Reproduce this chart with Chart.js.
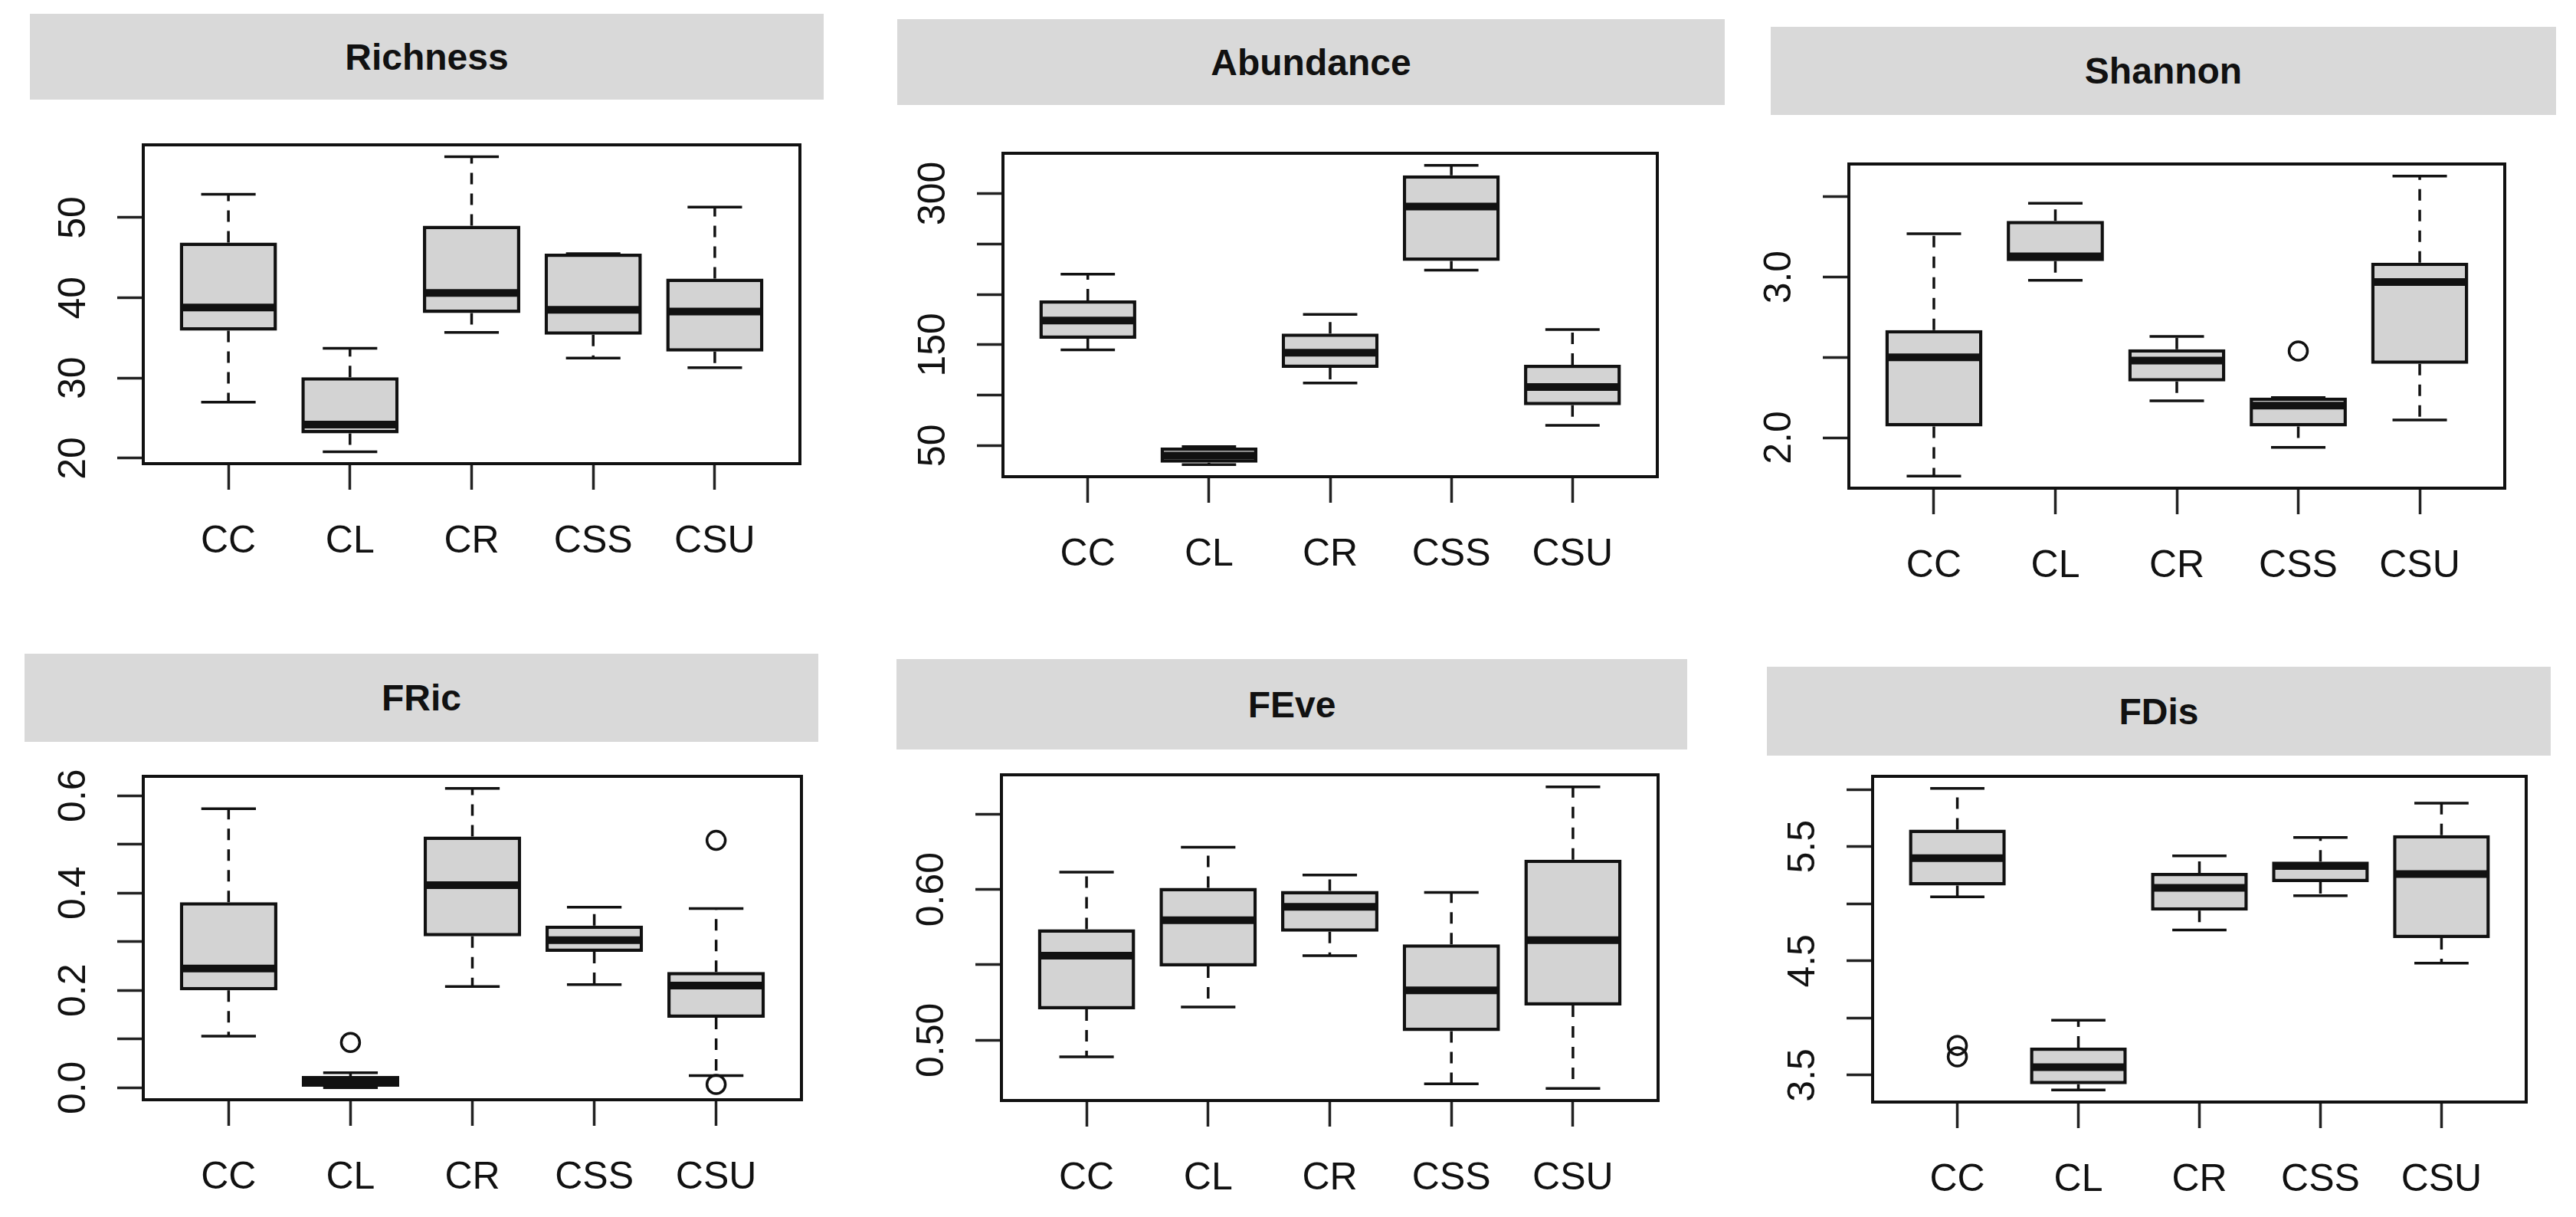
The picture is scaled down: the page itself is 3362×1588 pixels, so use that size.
<!DOCTYPE html>
<html>
<head>
<meta charset="utf-8">
<script src="https://cdn.jsdelivr.net/npm/chart.js@4.4.1/dist/chart.umd.min.js"></script>
<style>
  body { margin: 0; background: #fff; width: 3362px; height: 1588px; position: relative; overflow: hidden;
         font-family: "Liberation Sans", Arial, sans-serif; }
  .strip { position: absolute; background: #d9d9d9; display: flex; align-items: center; justify-content: center;
           font-weight: bold; font-size: 48px; color: #111; }
  .panel { position: absolute; }
</style>
</head>
<body>
<script>
const groups = ["CC", "CL", "CR", "CSS", "CSU"];

// per group: [lower whisker, Q1, median, Q3, upper whisker]
const richness = [[27.0, 35.9, 38.8, 46.9, 52.9], [20.8, 23.1, 24.2, 30.1, 33.7], [35.7, 38.1, 40.6, 49.0, 57.6],
                  [32.5, 35.4, 38.5, 45.5, 45.5], [31.3, 33.3, 38.3, 42.4, 51.3]];
const abundance = [[145, 156, 174, 194, 220], [31, 33, 40, 48, 49], [112, 127, 142, 161, 180],
                   [224, 233, 287, 318, 328], [70, 90, 108, 130, 165]];
const shannon = [[1.76, 2.07, 2.50, 2.67, 3.27], [2.98, 3.10, 3.13, 3.35, 3.46], [2.23, 2.35, 2.48, 2.55, 2.63],
                 [1.94, 2.07, 2.20, 2.25, 2.25], [2.11, 2.46, 2.97, 3.09, 3.63]];
const fric = [[0.106, 0.200, 0.245, 0.381, 0.573], [0.000, 0.002, 0.011, 0.024, 0.031], [0.208, 0.311, 0.416, 0.516, 0.615],
              [0.212, 0.279, 0.303, 0.333, 0.371], [0.025, 0.144, 0.210, 0.238, 0.368]];
const feve = [[0.489, 0.5205, 0.556, 0.5736, 0.6115], [0.522, 0.549, 0.5795, 0.601, 0.628], [0.556, 0.572, 0.5885, 0.599, 0.6095],
              [0.471, 0.506, 0.533, 0.5636, 0.598], [0.468, 0.523, 0.5664, 0.6197, 0.668]];
const fdis = [[5.06, 5.16, 5.40, 5.65, 6.01], [3.37, 3.42, 3.57, 3.74, 3.98], [4.77, 4.94, 5.14, 5.27, 5.42],
              [5.07, 5.19, 5.33, 5.37, 5.58], [4.48, 4.70, 5.26, 5.60, 5.88]];

// outliers: [group number, value]
const richnessOut = [];
const abundanceOut = [];
const shannonOut = [[4, 2.54]];
const fricOut = [[2, 0.093], [5, 0.508], [5, 0.007]];
const feveOut = [];
const fdisOut = [[1, 3.76], [1, 3.66]];

// y tick marks, and which of them carry a label
const richnessTicks = [20, 30, 40, 50];
const richnessLabels = ["20", "30", "40", "50"];
const abundanceTicks = [50, 100, 150, 200, 250, 300];
const abundanceLabels = ["50", "150", "300"];
const shannonTicks = [2.0, 2.5, 3.0, 3.5];
const shannonLabels = ["2.0", "3.0"];
const fricTicks = [0.0, 0.1, 0.2, 0.3, 0.4, 0.5, 0.6];
const fricLabels = ["0.0", "0.2", "0.4", "0.6"];
const feveTicks = [0.50, 0.55, 0.60, 0.65];
const feveLabels = ["0.50", "0.60"];
const fdisTicks = [3.5, 4.0, 4.5, 5.0, 5.5, 6.0];
const fdisLabels = ["3.5", "4.5", "5.5"];

const FONT = '"Liberation Sans", Arial, sans-serif';
const INK = "#111";

function addPanel(title, stats, outliers, ticks, labels, strip, plot) {
  const head = document.createElement("div");
  head.className = "strip";
  head.style.left = strip[0] + "px"; head.style.top = strip[1] + "px";
  head.style.width = strip[2] + "px"; head.style.height = strip[3] + "px";
  head.textContent = title;
  document.body.appendChild(head);

  const padL = 170, padT = 20, padR = 20, padB = 140;
  const cv = document.createElement("canvas");
  cv.className = "panel";
  cv.width = plot[2] + padL + padR;
  cv.height = plot[3] + padT + padB;
  cv.style.left = (plot[0] - padL) + "px";
  cv.style.top = (plot[1] - padT) + "px";
  document.body.appendChild(cv);

  // R style axis range: data range stretched by 4% each side
  const all = stats.flat().concat(outliers.map(o => o[1]));
  const lo = Math.min(...all), hi = Math.max(...all), ext = (hi - lo) * 0.04;

  const boxParts = {
    id: "boxParts",
    afterDatasetsDraw(chart) {
      const { ctx, scales: { y } } = chart;
      const bars = chart.getDatasetMeta(0).data;
      ctx.save();
      ctx.strokeStyle = INK;
      stats.forEach((s, i) => {
        const cx = bars[i].x, w = bars[i].width;
        const [pLo, pQ1, pMed, pQ3, pHi] = s.map(v => y.getPixelForValue(v));
        ctx.lineWidth = 3.5;
        ctx.setLineDash([15, 12]);
        ctx.beginPath();
        ctx.moveTo(cx, pQ3); ctx.lineTo(cx, pHi);
        ctx.moveTo(cx, pQ1); ctx.lineTo(cx, pLo);
        ctx.stroke();
        ctx.setLineDash([]);
        ctx.beginPath();
        ctx.moveTo(cx - w * 0.28, pHi); ctx.lineTo(cx + w * 0.28, pHi);
        ctx.moveTo(cx - w * 0.28, pLo); ctx.lineTo(cx + w * 0.28, pLo);
        ctx.stroke();
        ctx.lineWidth = 10;
        ctx.beginPath();
        ctx.moveTo(cx - w / 2 + 2, pMed); ctx.lineTo(cx + w / 2 - 2, pMed);
        ctx.stroke();
      });
      ctx.restore();
    }
  };

  const frameAndLabels = {
    id: "frameAndLabels",
    afterDraw(chart) {
      const { ctx, chartArea: a, scales: { y } } = chart;
      ctx.save();
      ctx.strokeStyle = INK;
      ctx.lineWidth = 4;
      ctx.strokeRect(a.left, a.top, a.right - a.left, a.bottom - a.top);
      ctx.fillStyle = INK;
      ctx.font = "50px " + FONT;
      ctx.textAlign = "center";
      ctx.textBaseline = "alphabetic";
      labels.forEach(t => {
        ctx.save();
        ctx.translate(a.left - 76, y.getPixelForValue(Number(t)));
        ctx.rotate(-Math.PI / 2);
        ctx.fillText(t, 0, 0);
        ctx.restore();
      });
      ctx.restore();
    }
  };

  new Chart(cv, {
    type: "bar",
    data: {
      datasets: [
        {
          type: "bar",
          data: stats.map((s, i) => ({ x: i + 1, y: [s[1], s[3]] })),
          backgroundColor: "#d3d3d3",
          borderColor: INK,
          borderWidth: 4.5,
          borderSkipped: false,
          barPercentage: 0.8,
          categoryPercentage: 1
        },
        {
          type: "scatter",
          data: outliers.map(o => ({ x: o[0], y: o[1] })),
          pointStyle: "circle",
          pointRadius: 12,
          borderColor: INK,
          borderWidth: 3.5,
          backgroundColor: "rgba(0,0,0,0)"
        }
      ]
    },
    options: {
      responsive: false,
      animation: false,
      devicePixelRatio: 1,
      layout: { padding: { top: padT, right: padR, left: 0, bottom: 0 } },
      plugins: { legend: { display: false }, tooltip: { enabled: false } },
      scales: {
        x: {
          type: "linear", min: 0.3, max: 5.7, offset: false,
          afterBuildTicks: s => { s.ticks = groups.map((g, i) => ({ value: i + 1 })); },
          afterFit: s => { s.height = padB; },
          ticks: { callback: v => groups[Math.round(v) - 1], autoSkip: false, maxRotation: 0,
                   padding: 38, color: INK, font: { family: FONT, size: 50 } },
          grid: { offset: false, drawOnChartArea: false, tickLength: 34, tickWidth: 3.5, tickColor: "#222" },
          border: { display: false }
        },
        y: {
          min: lo - ext, max: hi + ext,
          afterBuildTicks: s => { s.ticks = ticks.map(v => ({ value: v })); },
          afterFit: s => { s.width = padL; },
          ticks: { display: false },
          grid: { drawOnChartArea: false, tickLength: 34, tickWidth: 3.5, tickColor: "#222" },
          border: { display: false }
        }
      }
    },
    plugins: [boxParts, frameAndLabels]
  });
}

// strip: [left, top, width, height], plot: [left, top, width, height]
addPanel("Richness", richness, richnessOut, richnessTicks, richnessLabels, [39, 18, 1036, 112], [187, 189, 857, 416]);
addPanel("Abundance", abundance, abundanceOut, abundanceTicks, abundanceLabels, [1171, 25, 1080, 112], [1309, 200, 854, 422]);
addPanel("Shannon", shannon, shannonOut, shannonTicks, shannonLabels, [2311, 35, 1025, 115], [2413, 214, 856, 423]);
addPanel("FRic", fric, fricOut, fricTicks, fricLabels, [32, 853, 1036, 115], [187, 1013, 859, 422]);
addPanel("FEve", feve, feveOut, feveTicks, feveLabels, [1170, 860, 1032, 118], [1307, 1011, 857, 425]);
addPanel("FDis", fdis, fdisOut, fdisTicks, fdisLabels, [2306, 870, 1023, 116], [2444, 1013, 853, 425]);
</script>
</body>
</html>
